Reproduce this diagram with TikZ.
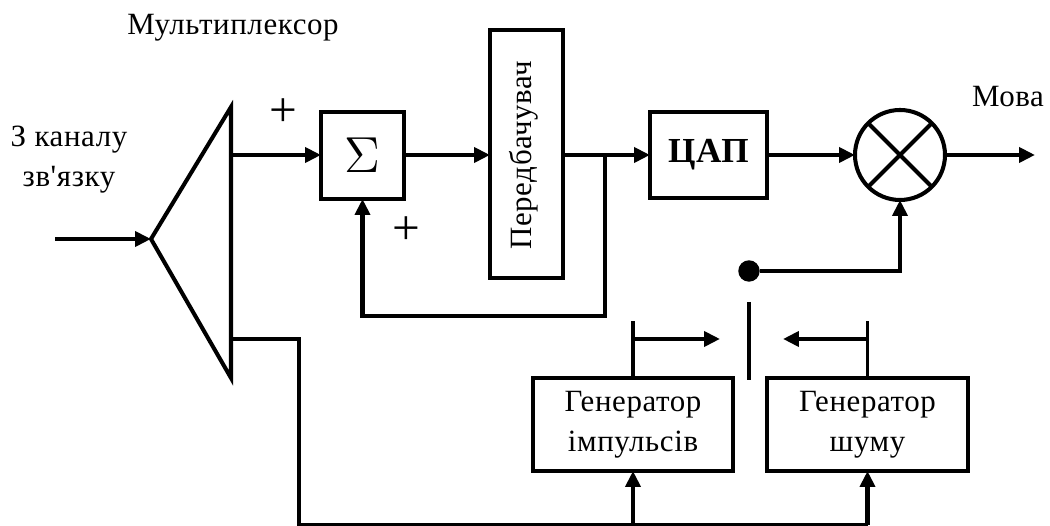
\documentclass[tikz,border=0pt]{standalone}
\usepackage{fontspec}
\setmainfont[LetterSpace=2, Ligatures=TeXOff]{Liberation Serif}
\usetikzlibrary{arrows.meta}
\tikzset{
	block/.style={draw, line width=1.15pt, inner sep=0pt, outer sep=0pt, anchor=north west},
	wire/.style={line width=1.15pt},
	thinwire/.style={line width=0.9pt},
	flow/.style={wire, -{Triangle[length=4.5pt, width=4.2pt]}},
	caption/.style={font=\fontsize{8.8}{11.4}\selectfont, align=center, inner sep=0pt}
}
\begin{document}
\begin{tikzpicture}
	\useasboundingbox (0, 0) rectangle (10.5, 5.26);
	% multiplexer
	\draw[wire] (1.51, 2.87) -- (2.31, 4.19) -- (2.31, 1.48) -- cycle;
	\coordinate (muxin) at (1.51, 2.87);
	\coordinate (muxa) at (2.31, 3.71);
	\coordinate (muxb) at (2.31, 1.87);
	\coordinate (start) at (0.55, 2.87);
	% blocks
	\node[block, minimum width=0.83cm, minimum height=0.87cm] (sum) at (3.21, 4.14) {\fontsize{14}{14}\selectfont$\Sigma$};
	\node[block, minimum width=0.73cm, minimum height=2.48cm] (pred) at (4.9, 4.96) {};
	\node[caption, rotate=90] (predtext) at (5.24, 3.71) {Передбачувач};
	\node[block, minimum width=1.17cm, minimum height=0.86cm] (dac) at (6.5, 4.14) {\fontsize{10}{12}\selectfont\bfseries ЦАП};
	\node[draw, circle, line width=1.15pt, minimum size=0.9cm, inner sep=0pt, outer sep=0pt] (mix) at (9, 3.71) {};
	\draw[wire] (mix.45) -- (mix.225);
	\draw[wire] (mix.135) -- (mix.315);
	\node[block, minimum width=2.0cm, minimum height=0.93cm] (genp) at (5.33, 1.48) {};
	\node[block, minimum width=2.01cm, minimum height=0.93cm] (genn) at (7.67, 1.48) {};
	\node[caption] at (genp.center) {Генератор\\імпульсів};
	\node[caption] at (genn.center) {Генератор\\шуму};
	% signal path
	\draw[flow] (start) -- (muxin);
	\draw[flow] (muxa) -- (sum.west |- muxa);
	\draw[flow] (sum.east |- muxa) -- (pred.west |- muxa);
	\draw[flow] (pred.east |- muxa) -- (dac.west |- muxa);
	\draw[flow] (dac.east |- muxa) -- (mix.west);
	\draw[flow] (mix.east) -- (10.35, 3.71);
	% feedback
	\coordinate (tap) at (6.05, 3.71);
	\draw[flow] (tap) -- (6.05, 2.1) -| (sum.south);
	% lower bus
	\coordinate (bus) at (2.99, 0.005);
	\draw[wire] (muxb) -- (2.99, 1.87) -- (bus) -- (8.68, 0.005);
	\draw[flow] (genp.south |- bus) -- (genp.south);
	\draw[flow] (genn.south |- bus) -- (genn.south);
	% switch
	\node[draw, circle, fill=black, inner sep=0pt, minimum size=0.2cm] (pole) at (7.49, 2.55) {};
	\draw[flow] (pole) -| (mix.south);
	\draw[thinwire] (7.49, 2.24) -- (7.49, 1.46);
	\draw[thinwire] (genp.north) -- (genp.north |- 0, 2.05);
	\draw[flow] (genp.north |- 0, 1.87) -- (7.2, 1.87);
	\draw[thinwire] (genn.north) -- (genn.north |- 0, 2.05);
	\draw[flow] (genn.north |- 0, 1.87) -- (7.83, 1.87);
	% labels
	\node[caption] at (2.33, 4.98) {Мультиплексор};
	\node[caption] at (0.69, 3.66) {З каналу\\зв'язку};
	\node[caption] at (10.08, 4.29) {Мова};
	\node[caption, font=\fontsize{14}{14}\selectfont] at (2.83, 4.13) {+};
	\node[caption, font=\fontsize{14}{14}\selectfont] at (4.06, 2.95) {+};
\end{tikzpicture}
\end{document}
